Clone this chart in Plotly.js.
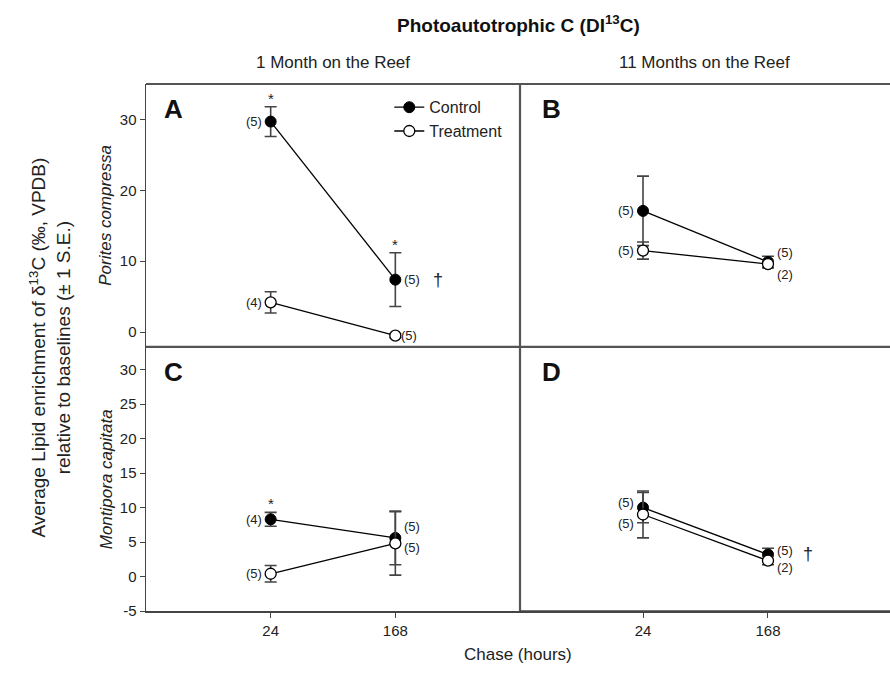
<!DOCTYPE html>
<html>
<head>
<meta charset="utf-8">
<script src="https://cdn.plot.ly/plotly-3.0.1.min.js"></script>
<style>html,body{margin:0;padding:0;background:#fff;}#chart{width:890px;height:673px;}</style>
</head>
<body>
<div id="chart"></div>
<script>
// ---- data ----
const hours = ['24', '168'];
const yTicksTop = [0, 10, 20, 30];
const yTicksBottom = [-5, 0, 5, 10, 15, 20, 25, 30];
const yTickTextBottom = ['-5', '0', '5', '10', '15', '20', '25', '30'];

const ctrlA = [29.7, 7.4], ctrlAErr = [2.1, 3.8];
const trtA = [4.2, -0.5], trtAErr = [1.5, 0.3];
const ctrlB = [17.1, 9.9], ctrlBErr = [4.9, 0.8];
const trtB = [11.5, 9.6], trtBErr = [1.2, 0.5];
const ctrlC = [8.3, 5.6], ctrlCErr = [1.0, 3.9];
const trtC = [0.4, 4.8], trtCErr = [1.2, 4.6];
const ctrlD = [10.0, 3.2], ctrlDErr = [2.2, 0.9];
const trtD = [9.0, 2.3], trtDErr = [3.4, 0.6];

const nCtrlA = ['(5)', '(5)'], nTrtA = ['(4)', '(5)'];
const nCtrlB = ['(5)', '(5)'], nTrtB = ['(5)', '(2)'];
const nCtrlC = ['(4)', '(5)'], nTrtC = ['(5)', '(5)'];
const nCtrlD = ['(5)', '(5)'], nTrtD = ['(5)', '(2)'];

const FONT = 'Liberation Sans, Arial, Helvetica, sans-serif';
const AX = '#444';

function pair(xa, ya, c, ce, t, te, showLegend) {
  const common = {type: 'scatter', mode: 'lines+markers', x: hours, xaxis: xa, yaxis: ya,
    line: {color: '#000', width: 1.3}, showlegend: showLegend, cliponaxis: false};
  return [
    Object.assign({}, common, {name: 'Control', y: c,
      error_y: {type: 'data', array: ce, visible: true, color: AX, thickness: 1.6, width: 6},
      marker: {symbol: 'circle', size: 11, color: '#000', line: {color: '#000', width: 1}}}),
    Object.assign({}, common, {name: 'Treatment', y: t,
      error_y: {type: 'data', array: te, visible: true, color: AX, thickness: 1.6, width: 6},
      marker: {symbol: 'circle', size: 11, color: '#fff', line: {color: '#000', width: 1.3}}})
  ];
}

const data = [].concat(
  pair('x', 'y', ctrlA, ctrlAErr, trtA, trtAErr, true),
  pair('x2', 'y2', ctrlB, ctrlBErr, trtB, trtBErr, false),
  pair('x3', 'y3', ctrlC, ctrlCErr, trtC, trtCErr, false),
  pair('x4', 'y4', ctrlD, ctrlDErr, trtD, trtDErr, false)
);

const xL = [0, 0.5027], xR = [0.5027, 1];
const yT = [0.501, 1], yB = [0, 0.501];

// category index of an hour label on the category axis
const xi = h => hours.indexOf(h);

function nlab(xa, ya, h, y, text, side, yshift, extraShift) {
  return {xref: xa, yref: ya, x: xi(h), y: y, text: text, showarrow: false,
    xanchor: side === 'left' ? 'right' : 'left',
    xshift: (side === 'left' ? -7 : 7) + (extraShift || 0), yshift: yshift || 0,
    font: {family: FONT, size: 13, color: '#222'}};
}
function star(xa, ya, h, y) {
  return {xref: xa, yref: ya, x: xi(h), y: y, text: '*', showarrow: false, yanchor: 'bottom', yshift: -2,
    font: {family: FONT, size: 15, color: '#222'}};
}
function dagger(xa, ya, h, y, shift) {
  return {xref: xa, yref: ya, x: xi(h), y: y, text: '†', showarrow: false, xanchor: 'left', xshift: shift,
    font: {family: FONT, size: 18, color: '#222'}};
}
function letter(xa, ya, t) {
  return {xref: 'paper', yref: 'paper', x: xa, y: ya, text: '<b>' + t + '</b>', showarrow: false,
    xanchor: 'left', yanchor: 'top', font: {family: FONT, size: 26, color: '#111'}};
}

const annotations = [
  // panel A
  star('x', 'y', hours[0], ctrlA[0] + ctrlAErr[0]),
  star('x', 'y', hours[1], ctrlA[1] + ctrlAErr[1]),
  nlab('x', 'y', hours[0], ctrlA[0], nCtrlA[0], 'left'),
  nlab('x', 'y', hours[0], trtA[0], nTrtA[0], 'left'),
  nlab('x', 'y', hours[1], ctrlA[1], nCtrlA[1], 'right'),
  dagger('x', 'y', hours[1], ctrlA[1], 36),
  nlab('x', 'y', hours[1], trtA[1], nTrtA[1], 'right', 0, -3),
  // panel B
  nlab('x2', 'y2', hours[0], ctrlB[0], nCtrlB[0], 'left'),
  nlab('x2', 'y2', hours[0], trtB[0], nTrtB[0], 'left'),
  nlab('x2', 'y2', hours[1], ctrlB[1], nCtrlB[1], 'right', 9),
  nlab('x2', 'y2', hours[1], trtB[1], nTrtB[1], 'right', -10),
  // panel C
  star('x3', 'y3', hours[0], ctrlC[0] + ctrlCErr[0]),
  nlab('x3', 'y3', hours[0], ctrlC[0], nCtrlC[0], 'left'),
  nlab('x3', 'y3', hours[0], trtC[0], nTrtC[0], 'left'),
  nlab('x3', 'y3', hours[1], ctrlC[1], nCtrlC[1], 'right', 11),
  nlab('x3', 'y3', hours[1], trtC[1], nTrtC[1], 'right', -4),
  // panel D
  nlab('x4', 'y4', hours[0], ctrlD[0], nCtrlD[0], 'left', 5),
  nlab('x4', 'y4', hours[0], trtD[0], nTrtD[0], 'left', -9),
  nlab('x4', 'y4', hours[1], ctrlD[1], nCtrlD[1], 'right', 4),
  dagger('x4', 'y4', hours[1], ctrlD[1], 33),
  nlab('x4', 'y4', hours[1], trtD[1], nTrtD[1], 'right', -7),
  // panel letters
  letter(0.022, 0.985, 'A'), letter(0.53, 0.985, 'B'),
  letter(0.022, 0.486, 'C'), letter(0.53, 0.486, 'D'),
  // titles
  {xref: 'paper', yref: 'paper', x: 0.5, xanchor: 'center', y: 1, yshift: 46, yanchor: 'bottom', showarrow: false,
    text: '<b>Photoautotrophic C (DI<sup>13</sup>C)</b>', font: {family: FONT, size: 19, color: '#111'}},
  {xref: 'paper', yref: 'paper', x: 0.2513, xanchor: 'center', y: 1, yshift: 10, yanchor: 'bottom', showarrow: false,
    text: '1 Month on the Reef', font: {family: FONT, size: 17, color: '#222'}},
  {xref: 'paper', yref: 'paper', x: 0.7513, xanchor: 'center', y: 1, yshift: 10, yanchor: 'bottom', showarrow: false,
    text: '11 Months on the Reef', font: {family: FONT, size: 17, color: '#222'}},
  {xref: 'paper', yref: 'paper', x: 0.5, xanchor: 'center', y: 0, yshift: -32, yanchor: 'top', showarrow: false,
    text: 'Chase (hours)', font: {family: FONT, size: 17, color: '#222'}},
  {xref: 'paper', yref: 'paper', x: 0, xshift: -96, xanchor: 'center', y: 0.5, yanchor: 'middle', textangle: -90, showarrow: false,
    text: 'Average Lipid enrichment of δ<sup>13</sup>C (‰, VPDB)<br>relative to baselines (± 1 S.E.)',
    font: {family: FONT, size: 19, color: '#222'}},
  {xref: 'paper', yref: 'paper', x: 0, xshift: -40, xanchor: 'center', y: 0.75, yanchor: 'middle', textangle: -90, showarrow: false,
    text: '<i>Porites compressa</i>', font: {family: FONT, size: 17, color: '#222'}},
  {xref: 'paper', yref: 'paper', x: 0, xshift: -40, xanchor: 'center', y: 0.25, yanchor: 'middle', textangle: -90, showarrow: false,
    text: '<i>Montipora capitata</i>', font: {family: FONT, size: 17, color: '#222'}}
];

const tickFont = {family: FONT, size: 15, color: '#222'};
function xax(domain, anchor, range, labels) {
  return {domain: domain, anchor: anchor, type: 'category', range: range, showgrid: false, zeroline: false,
    showline: labels, linecolor: AX, linewidth: 1.5, ticks: labels ? 'outside' : '', ticklen: 5, tickcolor: AX,
    showticklabels: labels, tickfont: tickFont, fixedrange: true};
}
function yax(domain, anchor, range, vals, text, labels) {
  return {domain: domain, anchor: anchor, range: range, showgrid: false, zeroline: false,
    showline: labels, linecolor: AX, linewidth: 1.5, ticks: labels ? 'outside' : '', ticklen: 5, tickcolor: AX,
    tickvals: vals, ticktext: text, showticklabels: labels, tickfont: tickFont, fixedrange: true};
}

const layout = {
  width: 890, height: 673,
  margin: {l: 146, r: 0, t: 84, b: 62},
  paper_bgcolor: '#fff', plot_bgcolor: '#fff',
  font: {family: FONT, color: '#222'},
  showlegend: true,
  legend: {x: 0.327, y: 0.988, xanchor: 'left', yanchor: 'top', bgcolor: 'rgba(0,0,0,0)',
    font: {family: FONT, size: 16, color: '#222'}, tracegroupgap: 0},
  xaxis: xax(xL, 'y', [-1, 2], false),
  xaxis2: xax(xR, 'y2', [-0.984, 1.976], false),
  xaxis3: xax(xL, 'y3', [-1, 2], true),
  xaxis4: xax(xR, 'y4', [-0.984, 1.976], true),
  yaxis: yax(yT, 'x', [-2.1, 35], yTicksTop, yTicksTop.map(String), true),
  yaxis2: yax(yT, 'x2', [-2.1, 35], yTicksTop, yTicksTop.map(String), false),
  yaxis3: yax(yB, 'x3', [-5, 33.3], yTicksBottom, yTickTextBottom, true),
  yaxis4: yax(yB, 'x4', [-5, 33.3], yTicksBottom, yTickTextBottom, false),
  annotations: annotations,
  shapes: [
    {type: 'line', xref: 'paper', yref: 'paper', x0: 0, x1: 1, y0: 1, y1: 1, line: {color: '#555', width: 2.2}},
    {type: 'line', xref: 'paper', yref: 'paper', x0: 0, x1: 1, y0: 0.501, y1: 0.501, line: {color: '#555', width: 2.2}},
    {type: 'line', xref: 'paper', yref: 'paper', x0: 0.5027, x1: 0.5027, y0: 0, y1: 1, line: {color: '#555', width: 2.2}},
    {type: 'line', xref: 'paper', yref: 'paper', x0: 0.5027, x1: 1, y0: 0, y1: 0, line: {color: AX, width: 1.5}}
  ]
};

Plotly.newPlot('chart', data, layout, {displayModeBar: false, staticPlot: true});
</script>
</body>
</html>
